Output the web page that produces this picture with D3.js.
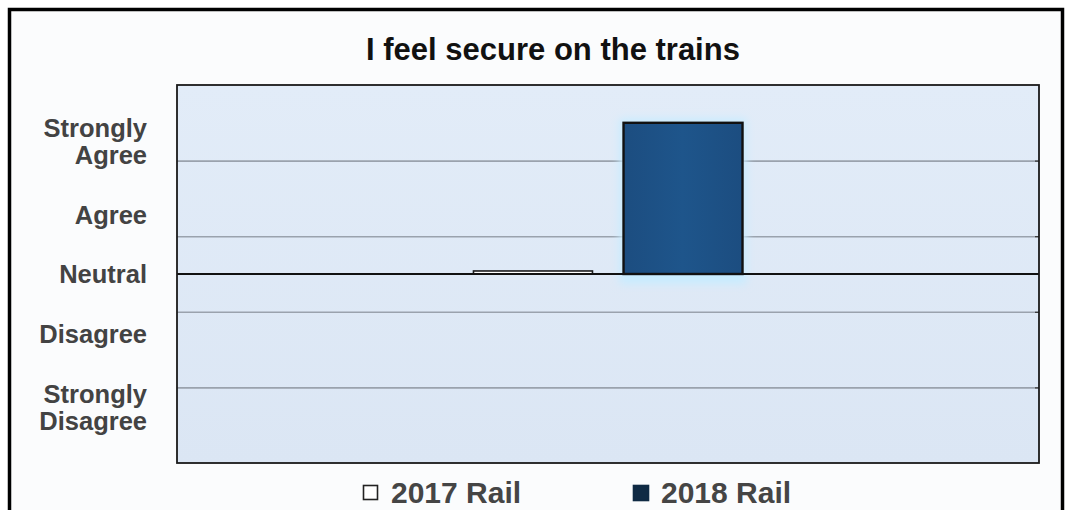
<!DOCTYPE html>
<html>
<head>
<meta charset="utf-8">
<script src="https://cdn.jsdelivr.net/npm/d3@7"></script>
<style>
  html, body { margin: 0; padding: 0; background: #ffffff; }
  svg { display: block; }
  text { font-family: "Liberation Sans", Arial, sans-serif; }
</style>
</head>
<body>
<svg id="chart" width="1065" height="510"></svg>
<script>
// ---- data ----
const title = "I feel secure on the trains";
const categories = [""];
const seriesNames = ["2017 Rail", "2018 Rail"];
const values2017 = [0.04];
const values2018 = [2.0];
const levelLabels = ["Strongly Agree", "Agree", "Neutral", "Disagree", "Strongly Disagree"];
const levelValues = [1.75, 0.78, 0, -0.79, -1.77];
const gridValues = [-1.5, -0.5, 0.5, 1.5];
const yDomain = [-2.5, 2.5];

// ---- layout ----
const plot = { left: 177, right: 1039, top: 85, bottom: 463 };
const seriesFill = ["#ffffff", "#1d5188"];
const seriesStroke = ["#1a1a1a", "#111111"];

const svg = d3.select("#chart");
const defs = svg.append("defs");
const g1 = defs.append("linearGradient").attr("id", "plotBg").attr("x1", 0).attr("y1", 0).attr("x2", 0).attr("y2", 1);
g1.append("stop").attr("offset", "0%").attr("stop-color", "#e2ecf8");
g1.append("stop").attr("offset", "100%").attr("stop-color", "#dbe6f4");
const g2 = defs.append("linearGradient").attr("id", "barFill").attr("x1", 0).attr("y1", 0).attr("x2", 1).attr("y2", 0);
g2.append("stop").attr("offset", "0%").attr("stop-color", "#1c4d80");
g2.append("stop").attr("offset", "50%").attr("stop-color", "#1e558b");
g2.append("stop").attr("offset", "100%").attr("stop-color", "#1c4d80");
const glow = defs.append("filter").attr("id", "glow").attr("x", "-20%").attr("y", "-20%").attr("width", "140%").attr("height", "140%");
glow.append("feGaussianBlur").attr("stdDeviation", 4);

// chart area background
svg.append("rect").attr("x", 10).attr("y", 10).attr("width", 1052).attr("height", 510).attr("fill", "#fbfcfd");

// plot background
svg.append("rect")
  .attr("x", plot.left).attr("y", plot.top)
  .attr("width", plot.right - plot.left).attr("height", plot.bottom - plot.top)
  .attr("fill", "url(#plotBg)");

const y = d3.scaleLinear().domain(yDomain).range([plot.bottom, plot.top]);
const x0 = d3.scaleBand().domain(categories).range([plot.left, plot.right]).paddingInner(0).paddingOuter(1.102);
const x1 = d3.scaleBand().domain(seriesNames).range([0, x0.bandwidth()]).paddingInner(0.207).paddingOuter(0);

// gridlines
const gridAxis = d3.axisRight(y).tickValues(gridValues).tickSize(plot.right - plot.left).tickFormat("");
const grid = svg.append("g").attr("transform", `translate(${plot.left},0)`).call(gridAxis);
grid.select(".domain").remove();
grid.selectAll(".tick line").attr("stroke", "#9aa2ad").attr("stroke-width", 1.6);

// right-edge small ticks
const rTicks = d3.axisLeft(y).tickValues(gridValues).tickSize(4).tickFormat("");
const rt = svg.append("g").attr("transform", `translate(${plot.right},0)`).call(rTicks);
rt.select(".domain").remove();
rt.selectAll(".tick line").attr("stroke", "#333").attr("stroke-width", 1.2);

// bars
const rows = categories.map((c, i) => ({ cat: c, vals: [values2017[i], values2018[i]] }));
const groups = svg.append("g").selectAll("g").data(rows).join("g")
  .attr("transform", d => `translate(${x0(d.cat)},0)`);

groups.selectAll("rect.glow").data(d => d.vals.map((v, j) => ({ v, j })).filter(e => e.j === 1)).join("rect")
  .attr("class", "glow")
  .attr("x", e => x1(seriesNames[e.j]) - 4)
  .attr("y", e => Math.min(y(e.v), y(0)) - 4)
  .attr("width", x1.bandwidth() + 8)
  .attr("height", e => Math.abs(y(e.v) - y(0)) + 14)
  .attr("fill", "#c8ecff")
  .attr("filter", "url(#glow)");

groups.selectAll("rect.bar").data(d => d.vals.map((v, j) => ({ v, j }))).join("rect")
  .attr("class", "bar")
  .attr("x", e => x1(seriesNames[e.j]))
  .attr("y", e => Math.min(y(e.v), y(0)))
  .attr("width", x1.bandwidth())
  .attr("height", e => Math.abs(y(e.v) - y(0)))
  .attr("fill", e => e.j === 1 ? "url(#barFill)" : seriesFill[e.j])
  .attr("stroke", e => seriesStroke[e.j])
  .attr("stroke-width", e => e.j === 1 ? 2.4 : 1.6);

// neutral line
svg.append("line")
  .attr("x1", plot.left).attr("x2", plot.right)
  .attr("y1", y(0)).attr("y2", y(0))
  .attr("stroke", "#111").attr("stroke-width", 2);

// plot border
svg.append("rect")
  .attr("x", plot.left).attr("y", plot.top)
  .attr("width", plot.right - plot.left).attr("height", plot.bottom - plot.top)
  .attr("fill", "none").attr("stroke", "#1a1a1a").attr("stroke-width", 1.8);

// y level labels
const lbl = svg.append("g");
levelLabels.forEach((t, i) => {
  const words = t.split(" ");
  const cy = y(levelValues[i]);
  const lineH = 27;
  const txt = lbl.append("text")
    .attr("text-anchor", "end")
    .attr("font-size", 25.5)
    .attr("font-weight", "bold")
    .attr("fill", "#434343");
  words.forEach((w, k) => {
    txt.append("tspan")
      .attr("x", 147)
      .attr("y", cy + 9 + (k - (words.length - 1) / 2) * lineH)
      .text(w);
  });
});

// title
svg.append("text")
  .attr("x", 553).attr("y", 60)
  .attr("text-anchor", "middle")
  .attr("font-size", 31)
  .attr("font-weight", "bold")
  .attr("fill", "#111")
  .text(title);

// legend
const legendX = [363, 633];
const leg = svg.append("g");
seriesNames.forEach((s, i) => {
  leg.append("rect")
    .attr("x", legendX[i] + 0.5).attr("y", 485.5)
    .attr("width", i === 1 ? 15 : 14).attr("height", i === 1 ? 15 : 14)
    .attr("fill", i === 1 ? "#0f2a44" : "#ffffff")
    .attr("stroke", i === 1 ? "#0f2a44" : "#222")
    .attr("stroke-width", 1.6);
  leg.append("text")
    .attr("x", legendX[i] + 28).attr("y", 503)
    .attr("font-size", 30)
    .attr("font-weight", "bold")
    .attr("fill", "#454545")
    .text(s);
});

// outer frame
svg.append("rect")
  .attr("x", 9.5).attr("y", 9.5)
  .attr("width", 1053).attr("height", 540)
  .attr("fill", "none").attr("stroke", "#000").attr("stroke-width", 3.5);
</script>
</body>
</html>
